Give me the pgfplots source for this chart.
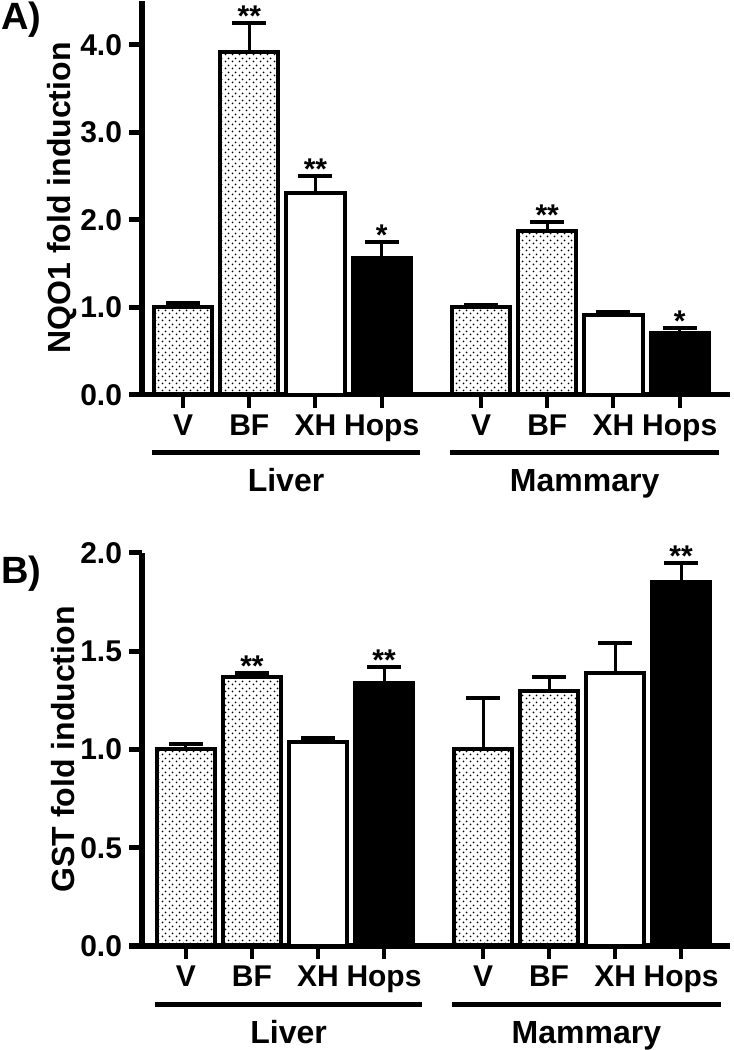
\documentclass[border=0pt]{standalone}
\usepackage{fontspec}
\setmainfont{Liberation Sans}
\usepackage{pgfplots}
\pgfplotsset{compat=1.18}
\usetikzlibrary{patterns.meta}

\tikzdeclarepattern{
  name=mydots,
  type=uncolored,
  bounding box={(0bp,0bp) and (3.5bp,3.5bp)},
  tile size={(3.5bp,3.5bp)},
  code={
    \pgfpathcircle{\pgfqpoint{0.875bp}{0.875bp}}{0.55bp}
    \pgfpathcircle{\pgfqpoint{2.625bp}{2.625bp}}{0.55bp}
    \pgfusepath{fill}
  }
}

\newcommand{\tfont}{\fontsize{15bp}{18bp}\selectfont\bfseries}
\newcommand{\lfont}{\fontsize{16bp}{19bp}\selectfont\bfseries}
\newcommand{\pfont}{\fontsize{19bp}{22bp}\selectfont\bfseries}

\pgfplotsset{
  panel/.style={
    scale only axis, width=294bp,
    axis x line*=bottom, axis y line*=left,
    axis line style={line width=2.5bp, -},
    tick align=outside,
    major tick length=6.5bp,
    tick style={black},
    xtick={0,1,2,3,4.5,5.5,6.5,7.5},
    xticklabels={V,BF,XH,Hops,V,BF,XH,Hops},
    x tick style={line width=2bp},
    y tick style={line width=2.5bp},
    ticklabel style={font=\tfont},
    ymin=0, clip=false,
    ylabel style={font=\lfont},
  },
  errs/.style={error bars/.cd, y dir=plus, y explicit,
    error bar style={line width=1.5bp, black},
    error mark options={rotate=90, mark size=8.5bp, line width=2bp, black}},
  dotbar/.style={ybar, bar shift=0pt, bar width=0.88, draw=black, line width=2bp, pattern={mydots}, pattern color=black, errs},
  whitebar/.style={ybar, bar shift=0pt, bar width=0.88, draw=black, line width=2bp, fill=white, errs},
  blackbar/.style={ybar, bar shift=0pt, bar width=0.88, draw=black, line width=2bp, fill=black, errs},
  stars/.style={draw=none, mark=none, nodes near coords, point meta=explicit symbolic,
    every node near coord/.style={anchor=south, inner sep=0pt, yshift=-2bp, font=\tfont}},
}

\begin{document}
\begin{tikzpicture}
\useasboundingbox (0,0) rectangle (367bp,525bp);

% ---------------- Panel A ----------------
\begin{axis}[panel, at={(71bp,327.5bp)}, anchor=south west, height=197bp,
  xmin=-0.62, xmax=8.26, ymax=4.5,
  ytick={0,1,2,3,4}, yticklabels={0.0,1.0,2.0,3.0,4.0},
  ylabel={NQO1 fold induction},
  every axis y label/.style={at={(axis description cs:-0.136,0.5)}, anchor=center, rotate=90, font=\lfont}]
\addplot[dotbar] table[x=x, y=y, y error=e] {
x y e
0 1.00 0.05
1 3.92 0.33
4.5 1.00 0.03
5.5 1.87 0.11
};
\addplot[whitebar] table[x=x, y=y, y error=e] {
x y e
2 2.31 0.19
6.5 0.91 0.04
};
\addplot[blackbar] table[x=x, y=y, y error=e] {
x y e
3 1.57 0.18
7.5 0.71 0.06
};
\addplot[stars] table[x=x, y=y, meta=s] {
x y s
1 4.25 **
2 2.50 **
3 1.75 *
5.5 1.98 **
7.5 0.77 *
};
\draw[line width=2.5bp] ([yshift=-29bp]axis cs:-0.47,0) -- ([yshift=-29bp]axis cs:3.58,0);
\draw[line width=2.5bp] ([yshift=-29bp]axis cs:4.03,0) -- ([yshift=-29bp]axis cs:8.10,0);
\node[anchor=base, font=\lfont] at ([yshift=-48.5bp]axis cs:1.555,0) {Liver};
\node[anchor=base, font=\lfont] at ([yshift=-48.5bp]axis cs:6.065,0) {Mammary};
\node[anchor=center, font=\pfont] at (rel axis cs:-0.205,0.952) {A)};
\end{axis}

% ---------------- Panel B ----------------
\begin{axis}[panel, at={(71bp,52bp)}, anchor=south west, height=196.5bp,
  xmin=-0.665, xmax=8.24, ymax=2.0,
  ytick={0,0.5,1,1.5,2}, yticklabels={0.0,0.5,1.0,1.5,2.0},
  ylabel={GST fold induction},
  every axis y label/.style={at={(axis description cs:-0.134,0.5)}, anchor=center, rotate=90, font=\lfont}]
\addplot[dotbar] table[x=x, y=y, y error=e] {
x y e
0 1.00 0.03
1 1.37 0.02
4.5 1.00 0.26
5.5 1.30 0.07
};
\addplot[whitebar] table[x=x, y=y, y error=e] {
x y e
2 1.04 0.02
6.5 1.39 0.15
};
\addplot[blackbar] table[x=x, y=y, y error=e] {
x y e
3 1.34 0.08
7.5 1.85 0.10
};
\addplot[stars] table[x=x, y=y, meta=s] {
x y s
1 1.39 **
3 1.42 **
7.5 1.95 **
};
\draw[line width=2.5bp] ([yshift=-29bp]axis cs:-0.47,0) -- ([yshift=-29bp]axis cs:3.58,0);
\draw[line width=2.5bp] ([yshift=-29bp]axis cs:4.03,0) -- ([yshift=-29bp]axis cs:8.10,0);
\node[anchor=base, font=\lfont] at ([yshift=-48.5bp]axis cs:1.555,0) {Liver};
\node[anchor=base, font=\lfont] at ([yshift=-48.5bp]axis cs:6.065,0) {Mammary};
\node[anchor=center, font=\pfont] at (rel axis cs:-0.205,0.947) {B)};
\end{axis}
\end{tikzpicture}
\end{document}
